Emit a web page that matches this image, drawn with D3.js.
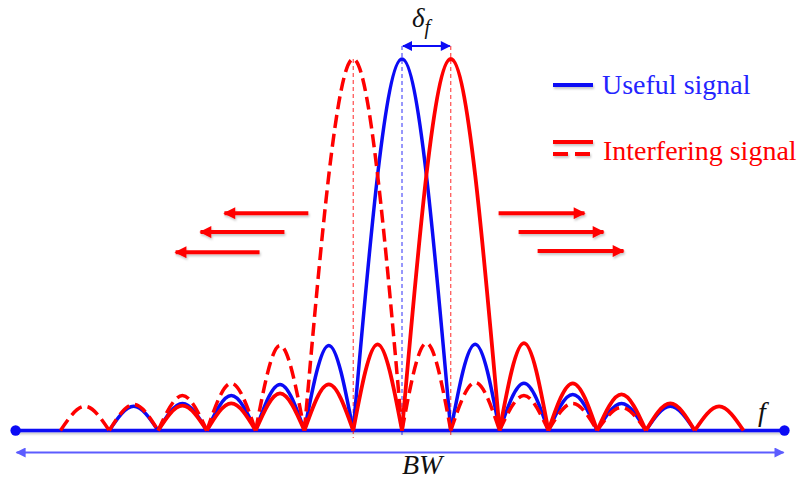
<!DOCTYPE html>
<html><head><meta charset="utf-8">
<script src="https://cdn.jsdelivr.net/npm/d3@7"></script>
<style>html,body{margin:0;padding:0;background:#fff;}svg{display:block;}</style>
</head><body>
<script>
// ---- data (frequency in null-spacing units, amplitude normalised to main peak) ----
const freqDomain = [-7, 7];
const bandwidth = [-7.92, 7.84];           // BW extent on the frequency axis
const ampDomain = [0, 1];

const usefulCenter = 0;
const usefulLeft  = [0.229, 0.124, 0.094, 0.073, 0.065];   // near -> far
const usefulRight = [0.232, 0.127, 0.097, 0.073, 0.065];

const interfRightCenter = 1;                                // solid red
const interfRightLeft  = [0.232, 0.124, 0.100, 0.073, 0.067];
const interfRightRight = [0.235, 0.127, 0.097, 0.073, 0.065];

const interfLeftCenter = -1;                                // dashed red
const interfLeftLeft  = [0.229, 0.127, 0.094, 0.070, 0.065];
const interfLeftRight = [0.235, 0.129, 0.094, 0.073, 0.062];

const leftArrows  = [[-1.92, -3.64, 0.585], [-2.41, -4.13, 0.534], [-2.92, -4.64, 0.480]];
const rightArrows = [[1.98, 3.74, 0.585], [2.39, 4.13, 0.534], [2.78, 4.54, 0.483]];
const deltaLevel = 1.035;

const legendLabels = ["Useful signal", "Interfering signal"];
const axisLabel = "f";
const bwLabel = "BW";

// ---- layout ----
const W = 804, H = 479;
const x = d3.scaleLinear().domain(freqDomain).range([60.5, 743.5]);
const y = d3.scaleLinear().domain(ampDomain).range([430.5, 59]);

const BLUE = "#0b0bf5", RED = "#ff0000", LIGHTBLUE = "#5c5cff";

const svg = d3.select("body").append("svg").attr("width", W).attr("height", H);
const defs = svg.append("defs");
defs.append("filter").attr("id", "shadow").attr("filterUnits", "userSpaceOnUse")
  .attr("x", 0).attr("y", 0).attr("width", W).attr("height", H)
  .append("feDropShadow").attr("dx", 1).attr("dy", 2).attr("stdDeviation", 1.2)
  .attr("flood-color", "#000").attr("flood-opacity", 0.22);
function marker(id, color, w, h) {
  defs.append("marker").attr("id", id).attr("viewBox", "0 0 10 10")
    .attr("refX", 9).attr("refY", 5).attr("markerUnits", "userSpaceOnUse")
    .attr("markerWidth", w).attr("markerHeight", h).attr("orient", "auto-start-reverse")
    .append("path").attr("d", "M0,0 L10,5 L0,10 Z").attr("fill", color);
}
marker("arRed", RED, 14, 12);
marker("arBlue", BLUE, 11, 10);
marker("arLight", LIGHTBLUE, 12, 10);

// lobes
function lobes(center, left, right) {
  const out = [];
  out.push([[center - 1, 0], [center, 1], [center + 1, 0]]);
  left.forEach((a, i) => { const k = i + 1; out.push([[center - 1 - k, 0], [center - 0.5 - k, a], [center - k, 0]]); });
  right.forEach((a, i) => { const k = i + 1; out.push([[center + k, 0], [center + k + 0.5, a], [center + k + 1, 0]]); });
  return out;
}
const line = d3.line().x(d => x(d[0])).y(d => y(d[1])).curve(d3.curveMonotoneX);

// axis
svg.append("line").attr("x1", x(bandwidth[0])).attr("x2", x(bandwidth[1]))
  .attr("y1", y(0)).attr("y2", y(0)).attr("stroke", BLUE).attr("stroke-width", 3.5)
  .attr("filter", "url(#shadow)");

// vertical guides
const guides = [[interfLeftCenter, RED, y(1)], [usefulCenter, BLUE, y(deltaLevel)], [interfRightCenter, RED, y(deltaLevel)]];
guides.forEach(g => {
  svg.append("line").attr("x1", x(g[0])).attr("x2", x(g[0])).attr("y1", g[2]).attr("y2", y(-0.02))
    .attr("stroke", g[1]).attr("stroke-width", 1).attr("stroke-dasharray", "4,3").attr("opacity", 0.85);
});

function drawSeries(center, left, right, color, dash, width) {
  svg.append("g").selectAll("path").data(lobes(center, left, right)).join("path")
    .attr("d", line).attr("fill", "none").attr("stroke", color).attr("stroke-width", width)
    .attr("stroke-linejoin", "round").attr("stroke-dasharray", dash);
}
drawSeries(usefulCenter, usefulLeft, usefulRight, BLUE, null, 3.5);
drawSeries(interfRightCenter, interfRightLeft, interfRightRight, RED, null, 3.8);
drawSeries(interfLeftCenter, interfLeftLeft, interfLeftRight, RED, "13,6", 3.5);

// axis end dots
[bandwidth[0], bandwidth[1]].forEach(v => svg.append("circle").attr("cx", x(v)).attr("cy", y(0)).attr("r", 5.2).attr("fill", BLUE));

// BW arrow
svg.append("line").attr("x1", x(bandwidth[0]) + 1).attr("x2", x(bandwidth[1]) - 1)
  .attr("y1", y(0) + 22).attr("y2", y(0) + 22).attr("stroke", LIGHTBLUE).attr("stroke-width", 2)
  .attr("marker-start", "url(#arLight)").attr("marker-end", "url(#arLight)");

// delta arrow
svg.append("line").attr("x1", x(usefulCenter) + 1).attr("x2", x(interfRightCenter) - 1)
  .attr("y1", y(deltaLevel)).attr("y2", y(deltaLevel)).attr("stroke", BLUE).attr("stroke-width", 2)
  .attr("marker-start", "url(#arBlue)").attr("marker-end", "url(#arBlue)");

// red arrows
leftArrows.concat(rightArrows).forEach(a => {
  svg.append("line").attr("x1", x(a[0])).attr("x2", x(a[1])).attr("y1", y(a[2])).attr("y2", y(a[2]))
    .attr("stroke", RED).attr("stroke-width", 4).attr("marker-end", "url(#arRed)")
    .attr("filter", "url(#shadow)");
});

// labels
const serif = "'Liberation Serif','Times New Roman',serif";
const dt = svg.append("text").attr("x", 412).attr("y", 27).attr("font-family", serif)
  .attr("font-style", "italic").attr("font-size", 27).attr("fill", "#111");
dt.append("tspan").text("δ");
dt.append("tspan").attr("font-size", 20).attr("dy", 7).text("f");

svg.append("text").attr("x", 758).attr("y", 421).attr("font-family", serif).attr("font-style", "italic")
  .attr("font-size", 28).attr("fill", "#111").text(axisLabel);
svg.append("text").attr("x", 402).attr("y", 474).attr("font-family", serif).attr("font-style", "italic")
  .attr("font-size", 28).attr("fill", "#111").text(bwLabel);

// legend
svg.append("line").attr("x1", 553).attr("x2", 593).attr("y1", 85).attr("y2", 85).attr("stroke", BLUE).attr("stroke-width", 4).attr("filter", "url(#shadow)");
svg.append("text").attr("x", 602).attr("y", 94).attr("font-family", serif).attr("font-size", 28).attr("fill", "#2424ff").text(legendLabels[0]);
svg.append("line").attr("x1", 553).attr("x2", 593).attr("y1", 142).attr("y2", 142).attr("stroke", RED).attr("stroke-width", 4).attr("filter", "url(#shadow)");
svg.append("line").attr("x1", 553).attr("x2", 593).attr("y1", 154).attr("y2", 154).attr("stroke", RED).attr("stroke-width", 4).attr("stroke-dasharray", "15,7").attr("filter", "url(#shadow)");
svg.append("text").attr("x", 603).attr("y", 160).attr("font-family", serif).attr("font-size", 28).attr("fill", RED).text(legendLabels[1]);
</script>
</body></html>
